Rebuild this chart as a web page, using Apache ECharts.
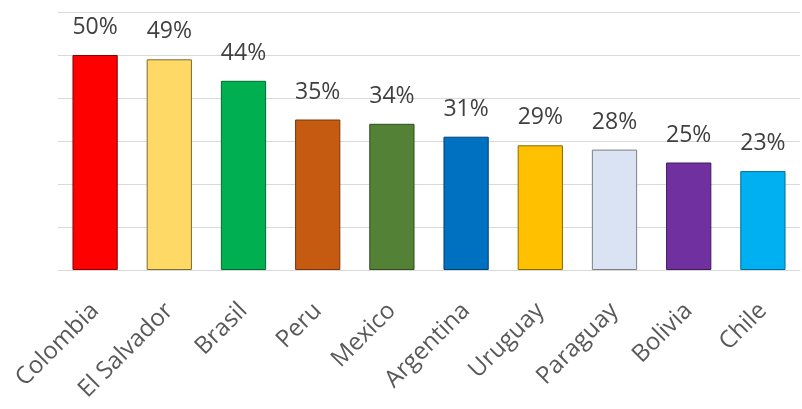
<!DOCTYPE html>
<html>
<head>
<meta charset="utf-8">
<style>
  html, body { margin: 0; padding: 0; background: #ffffff; }
  #chart { width: 802px; height: 409px; }
</style>
<script src="https://cdn.jsdelivr.net/npm/echarts@6/dist/echarts.min.js"></script>
</head>
<body>
<div id="chart"></div>
<script>
// Share per country (%)
const countries = ['Colombia', 'El Salvador', 'Brasil', 'Peru', 'Mexico', 'Argentina', 'Uruguay', 'Paraguay', 'Bolivia', 'Chile'];
const shares = [50, 49, 44, 35, 34, 31, 29, 28, 25, 23];
const fillColors = ['#FF0000', '#FFD966', '#00B050', '#C55A11', '#538135', '#0070C0', '#FFC000', '#DAE3F3', '#7030A0', '#00B0F0'];
const edgeColors = ['#8a0000', '#7f6a30', '#006b30', '#7a3608', '#2f4d1e', '#00406e', '#8a6a00', '#7f7f7f', '#3f1a5c', '#006e96'];

const chart = echarts.init(document.getElementById('chart'), null, { renderer: 'canvas' });

chart.setOption({
  animation: false,
  backgroundColor: '#ffffff',
  grid: { left: 58, right: 2, top: 12, bottom: 139 },
  xAxis: {
    type: 'category',
    data: countries,
    axisLine: { lineStyle: { color: '#d9d9d9', width: 1 } },
    axisTick: { show: false },
    axisLabel: {
      interval: 0,
      rotate: 45,
      margin: 37,
      color: '#595959',
      fontFamily: 'Open Sans',
      fontSize: 24
    }
  },
  yAxis: {
    type: 'value',
    min: 0,
    max: 60,
    interval: 10,
    axisLine: { show: false },
    axisTick: { show: false },
    axisLabel: { show: false },
    splitLine: { lineStyle: { color: '#d9d9d9', width: 1 } }
  },
  series: [{
    type: 'bar',
    barCategoryGap: '39%',
    data: shares.map((v, i) => ({
      value: v,
      itemStyle: { color: fillColors[i], borderColor: edgeColors[i], borderWidth: 1 }
    })),
    label: {
      show: true,
      position: 'top',
      distance: 16,
      formatter: p => p.value + '%',
      color: '#404040',
      fontFamily: 'Open Sans',
      fontSize: 23
    }
  }]
});
</script>
</body>
</html>
